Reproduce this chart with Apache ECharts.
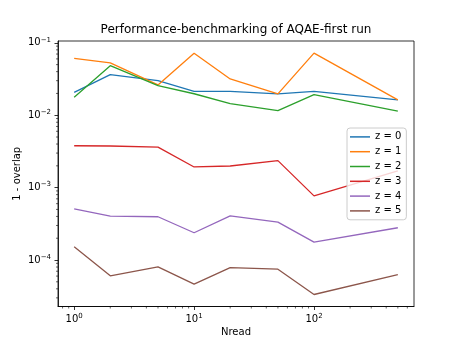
<!DOCTYPE html>
<html>
<head>
<meta charset="UTF-8">
<title>AQAE-first run</title>
<script src="https://cdn.jsdelivr.net/npm/echarts@6/dist/echarts.min.js"></script>
<style>
    html, body { margin: 0; padding: 0; background: #fff; }
    #main { width: 460px; height: 345px; }
</style>
</head>
<body>
<div id="main"></div>
<script>
    // Nread values (x) and 1 - overlap for each z
    var nread = [1, 2, 5, 10, 20, 50, 100, 500];
    var z0 = [0.0207, 0.0363, 0.0300, 0.0214, 0.0214, 0.0197, 0.0214, 0.0163];
    var z1 = [0.0608, 0.0530, 0.0262, 0.0720, 0.0317, 0.0197, 0.0720, 0.0163];
    var z2 = [0.0177, 0.0483, 0.0256, 0.0198, 0.0145, 0.0116, 0.0193, 0.0114];
    var z3 = [0.00379, 0.00376, 0.00363, 0.00193, 0.00199, 0.00236, 0.000769, 0.00170];
    var z4 = [0.000509, 0.000405, 0.000396, 0.000238, 0.000408, 0.000334, 0.000177, 0.000279];
    var z5 = [0.000153, 0.0000604, 0.0000803, 0.0000465, 0.0000787, 0.0000747, 0.0000334, 0.0000630];
    var seriesNames = ['z = 0', 'z = 1', 'z = 2', 'z = 3', 'z = 4', 'z = 5'];
    var colors = ['#1f77b4', '#ff7f0e', '#2ca02c', '#d62728', '#9467bd', '#8c564b'];

    var font = 'DejaVu Sans';
    var allY = [z0, z1, z2, z3, z4, z5];

    function pairs(ys) {
        var out = [];
        for (var i = 0; i < nread.length; i++) out.push([nread[i], ys[i]]);
        return out;
    }

    // only label exact powers of ten, matplotlib style
    function powLabel(v) {
        var e = Math.log10(v);
        var r = Math.round(e);
        if (Math.abs(e - r) > 1e-6) return '';
        return '{a|10}{b|' + (r < 0 ? '−' + (-r) : '' + r) + '}';
    }
    var richLbl = {
        a: { fontSize: 10, fontFamily: font, color: '#000' },
        b: { fontSize: 7, fontFamily: font, color: '#000', verticalAlign: 'bottom', padding: [0, 0, 6, 0] }
    };

    var series = [];
    for (var i = 0; i < allY.length; i++) {
        series.push({
            name: seriesNames[i],
            type: 'line',
            data: pairs(allY[i]),
            showSymbol: false,
            symbol: 'none',
            lineStyle: { width: 1.3, color: colors[i] },
            itemStyle: { color: colors[i] },
            animation: false
        });
    }

    var xMin = 0.733, xMax = 682;
    var yMin = 2.28e-5, yMax = 0.106;

    var myChart = echarts.init(document.getElementById('main'));
    myChart.setOption({
        animation: false,
        title: {
            text: 'Performance-benchmarking of AQAE-first run',
            left: 236, top: 24, padding: 0, textAlign: 'center',
            textStyle: { fontFamily: font, fontSize: 12, fontWeight: 'normal', color: '#000' }
        },
        grid: {
            left: 58, right: 46, top: 41, bottom: 38.5,
            show: true, borderColor: '#000', borderWidth: 0.8, backgroundColor: '#fff'
        },
        legend: {
            orient: 'vertical', left: 347, top: 128,
            padding: [3, 5, 3, 3], itemGap: 3,
            itemWidth: 20, itemHeight: 1.5, icon: 'rect',
            backgroundColor: 'rgba(255,255,255,0.8)', borderColor: '#ccc', borderWidth: 1, borderRadius: 3,
            textStyle: { fontFamily: font, fontSize: 10, color: '#000', lineHeight: 11.8 },
            data: seriesNames
        },
        xAxis: {
            type: 'log', logBase: 10, min: xMin, max: xMax,
            name: 'Nread', nameLocation: 'middle', nameGap: 21, nameMoveOverlap: false,
            nameTextStyle: { fontFamily: font, fontSize: 10, color: '#000' },
            axisLine: { lineStyle: { color: '#000', width: 0.8 } },
            axisTick: { inside: false, length: 3.5, lineStyle: { color: '#000', width: 0.8 } },
            axisLabel: { margin: 6, formatter: powLabel, rich: richLbl, showMinLabel: false, showMaxLabel: false },
            splitLine: { show: false }
        },
        yAxis: {
            type: 'log', logBase: 10, min: yMin, max: yMax,
            name: '1 - overlap', nameLocation: 'middle', nameGap: 36, nameMoveOverlap: false,
            nameTextStyle: { fontFamily: font, fontSize: 10, color: '#000' },
            axisLine: { lineStyle: { color: '#000', width: 0.8 } },
            axisTick: { inside: false, length: 3.5, lineStyle: { color: '#000', width: 0.8 } },
            axisLabel: { margin: 7, formatter: powLabel, rich: richLbl, showMinLabel: false, showMaxLabel: false },
            splitLine: { show: false }
        },
        series: series
    });

    // matplotlib-like minor ticks at 2..9 x 10^k, placed through the chart's own scales
    var minor = [];
    var corner = myChart.convertToPixel({ gridIndex: 0 }, [xMin, yMin]);
    var leftPx = corner[0], bottomPx = corner[1];
    for (var k = -6; k <= 3; k++) {
        for (var m = 2; m <= 9; m++) {
            var v = m * Math.pow(10, k);
            if (v > xMin && v < xMax) {
                var px = myChart.convertToPixel({ gridIndex: 0 }, [v, yMin])[0];
                minor.push({ type: 'line', silent: true,
                    shape: { x1: px, y1: bottomPx, x2: px, y2: bottomPx + 2 },
                    style: { stroke: '#000', lineWidth: 0.6 } });
            }
            if (v > yMin && v < yMax) {
                var py = myChart.convertToPixel({ gridIndex: 0 }, [xMin, v])[1];
                minor.push({ type: 'line', silent: true,
                    shape: { x1: leftPx - 2, y1: py, x2: leftPx, y2: py },
                    style: { stroke: '#000', lineWidth: 0.6 } });
            }
        }
    }
    myChart.setOption({ graphic: minor });
</script>
</body>
</html>
